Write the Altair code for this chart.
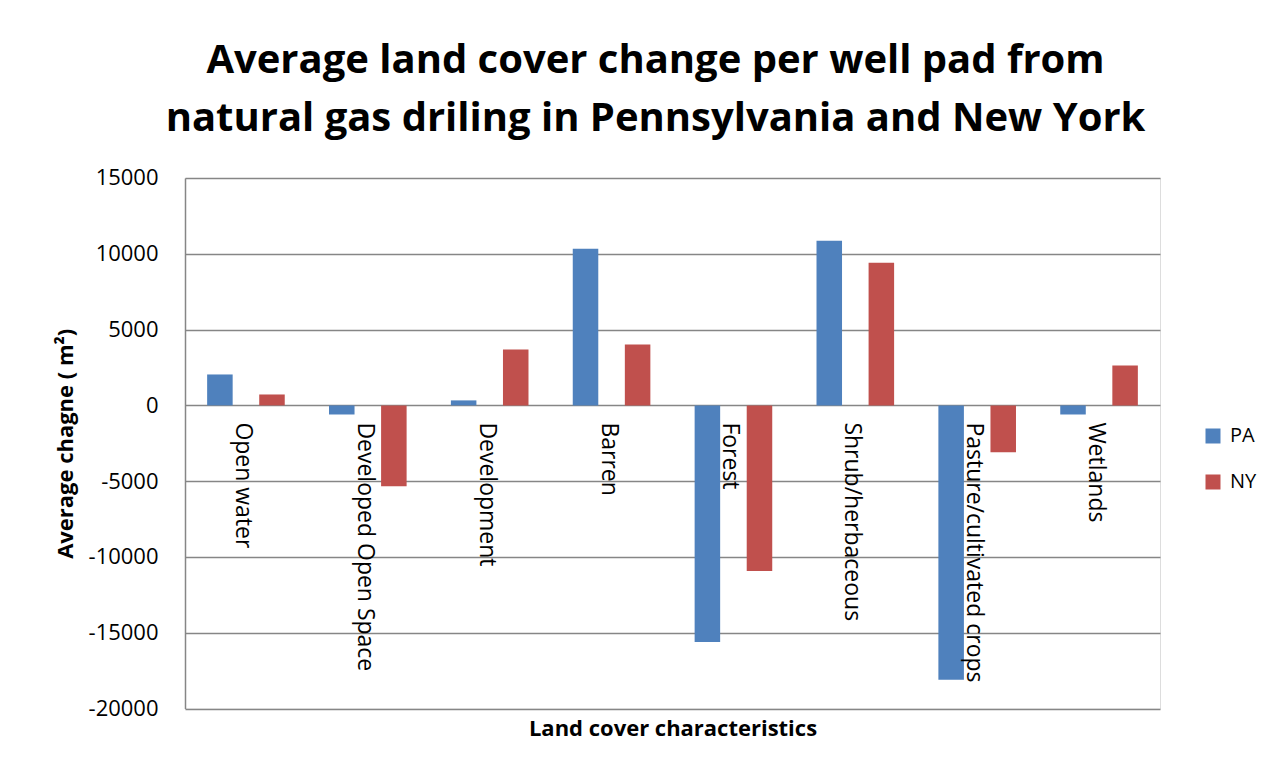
import altair as alt
import pandas as pd

categories = ["Open water", "Developed Open Space", "Development", "Barren",
              "Forest", "Shrub/herbaceous", "Pasture/cultivated crops", "Wetlands"]
pa_values = [2040, -600, 330, 10330, -15600, 10860, -18090, -600]
ny_values = [720, -5330, 3680, 4010, -10920, 9410, -3090, 2630]
series = ["PA", "NY"]
colors = ["#4F81BD", "#C0504D"]
y_ticks = [-20000, -15000, -10000, -5000, 0, 5000, 10000, 15000]

rows = []
for c, p, n in zip(categories, pa_values, ny_values):
    rows.append({"Category": c, "Series": "PA", "Value": p})
    rows.append({"Category": c, "Series": "NY", "Value": n})
df = pd.DataFrame(rows)
labels_df = pd.DataFrame({"Category": categories, "Zero": [0] * len(categories)})

FONT = "Open Sans"
W, H = 975, 530.6

x_enc = alt.X("Category:N", sort=categories,
              scale=alt.Scale(paddingInner=0, paddingOuter=0),
              axis=alt.Axis(title="Land cover characteristics", labels=False, ticks=False,
                            domain=False, titleFont=FONT, titleFontSize=22,
                            titleFontWeight="bold", titleColor="#000000", titlePadding=10))
y_scale = alt.Scale(domain=[-20000, 15000], nice=False)

bars = alt.Chart(df).mark_bar().encode(
    x=x_enc,
    xOffset=alt.XOffset("Series:N", sort=series,
                        scale=alt.Scale(paddingInner=0.51, paddingOuter=0.425)),
    y=alt.Y("Value:Q", scale=y_scale,
            axis=alt.Axis(title="Average chagne ( m²)", values=y_ticks,
                          labelExpr="replace(format(datum.value, 'd'), '\u2212', '-')",
                          labelFont=FONT, labelFontSize=22, labelColor="#000000",
                          labelPadding=27, ticks=False, domainColor="#868686",
                          domainWidth=1.5, gridColor="#868686", gridWidth=1.5,
                          titleFont=FONT, titleFontSize=22, titleFontWeight="bold",
                          titleColor="#000000", titlePadding=11)),
    color=alt.Color("Series:N", sort=series,
                    scale=alt.Scale(domain=series, range=colors),
                    legend=alt.Legend(title=None, orient="none", legendX=1018, legendY=248,
                                      symbolType="square", symbolSize=225,
                                      symbolStrokeWidth=0, labelFont=FONT,
                                      labelFontSize=20, labelColor="#000000",
                                      labelOffset=7, rowPadding=26)),
)

texts = alt.Chart(labels_df).mark_text(
    angle=90, align="left", baseline="middle", dx=17, dy=3,
    font=FONT, fontSize=23, color="#000000"
).encode(
    x=alt.X("Category:N", sort=categories),
    y=alt.Y("Zero:Q", scale=y_scale),
    text="Category:N",
)

chart = alt.layer(bars, texts).properties(
    width=W, height=H,
    title=alt.TitleParams(
        text=["Average land cover change per well pad from",
              "natural gas driling in Pennsylvania and New York"],
        font=FONT, fontSize=40, fontWeight="bold", color="#000000",
        anchor="middle", frame="bounds", lineHeight=58, offset=28),
    autosize=alt.AutoSizeParams(type="none"),
    padding={"left": 185, "top": 178, "right": 118, "bottom": 62},
).configure_view(stroke=None).configure(background="white")

chart.save("out.html", embed_options={"renderer": "svg", "actions": False})
